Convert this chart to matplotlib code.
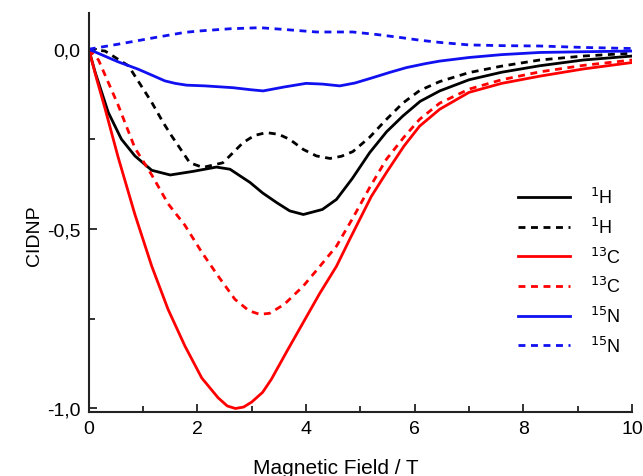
import matplotlib.pyplot as plt
from matplotlib.ticker import MultipleLocator, FuncFormatter

plt.rcParams['font.family'] = ['Liberation Sans', 'DejaVu Sans']

# CIDNP vs magnetic field, read per nucleus (solid / dashed pairs)
h_solid_x = [0, 0.12, 0.36, 0.6, 0.85, 1.16, 1.5, 1.92, 2.35, 2.6, 2.97, 3.2, 3.46, 3.7, 3.95, 4.3, 4.56, 4.85, 5.17, 5.48, 5.78, 6.1, 6.46, 7.0, 7.6, 8.3, 9.1, 10]
h_solid_y = [0, -0.065, -0.176, -0.25, -0.297, -0.337, -0.35, -0.34, -0.328, -0.334, -0.371, -0.4, -0.427, -0.45, -0.46, -0.446, -0.418, -0.36, -0.288, -0.23, -0.186, -0.145, -0.116, -0.085, -0.064, -0.046, -0.03, -0.019]

h_dash_x = [0, 0.3, 0.73, 1.0, 1.16, 1.37, 1.52, 1.86, 2.1, 2.47, 2.84, 3.05, 3.27, 3.5, 3.7, 3.95, 4.19, 4.44, 4.65, 4.86, 5.17, 5.48, 5.78, 6.09, 6.46, 7.0, 7.6, 8.3, 9.1, 10]
h_dash_y = [0, -0.005, -0.046, -0.11, -0.148, -0.204, -0.24, -0.316, -0.329, -0.316, -0.26, -0.24, -0.232, -0.237, -0.251, -0.279, -0.297, -0.304, -0.298, -0.285, -0.245, -0.195, -0.15, -0.115, -0.09, -0.065, -0.047, -0.03, -0.019, -0.011]

c_solid_x = [0, 0.15, 0.3, 0.54, 0.85, 1.16, 1.46, 1.77, 2.08, 2.38, 2.55, 2.7, 2.85, 3.0, 3.2, 3.36, 3.65, 3.95, 4.25, 4.56, 4.8, 4.99, 5.2, 5.48, 5.8, 6.09, 6.46, 7.0, 7.6, 8.3, 9.1, 10]
c_solid_y = [0, -0.085, -0.165, -0.3, -0.46, -0.604, -0.724, -0.826, -0.915, -0.97, -0.993, -1.0, -0.996, -0.982, -0.955, -0.919, -0.84, -0.76, -0.68, -0.604, -0.53, -0.473, -0.41, -0.343, -0.27, -0.214, -0.167, -0.12, -0.095, -0.075, -0.055, -0.037]

c_dash_x = [0, 0.18, 0.54, 0.85, 1.16, 1.46, 1.77, 2.08, 2.38, 2.69, 2.95, 3.15, 3.33, 3.6, 3.95, 4.25, 4.56, 4.86, 5.17, 5.48, 5.8, 6.09, 6.46, 7.0, 7.6, 8.3, 9.1, 10]
c_dash_y = [0, -0.03, -0.155, -0.275, -0.35, -0.43, -0.49, -0.565, -0.631, -0.696, -0.728, -0.738, -0.735, -0.71, -0.659, -0.605, -0.548, -0.47, -0.385, -0.306, -0.245, -0.195, -0.15, -0.111, -0.085, -0.063, -0.045, -0.03]

n_solid_x = [0, 0.54, 0.9, 1.16, 1.4, 1.59, 1.8, 2.14, 2.65, 3.0, 3.21, 3.6, 4.0, 4.3, 4.62, 4.9, 5.23, 5.55, 5.85, 6.2, 6.46, 7.0, 7.6, 8.3, 9.1, 10]
n_solid_y = [0, -0.035, -0.055, -0.072, -0.088, -0.095, -0.1, -0.102, -0.107, -0.113, -0.116, -0.105, -0.095, -0.097, -0.102, -0.094, -0.079, -0.064, -0.051, -0.04, -0.033, -0.023, -0.015, -0.009, -0.007, -0.005]

n_dash_x = [0, 0.54, 1.2, 1.77, 2.05, 2.6, 3.15, 3.6, 4.19, 4.86, 5.3, 5.72, 6.1, 6.46, 7.0, 7.6, 8.3, 9.1, 10]
n_dash_y = [0, 0.014, 0.032, 0.047, 0.051, 0.057, 0.06, 0.055, 0.048, 0.048, 0.041, 0.033, 0.025, 0.019, 0.012, 0.01, 0.009, 0.005, 0.002]

series = [
    (h_solid_x, h_solid_y, 'black', '-', r'$^{1}$H'),
    (h_dash_x, h_dash_y, 'black', '--', r'$^{1}$H'),
    (c_solid_x, c_solid_y, '#ff0000', '-', r'$^{13}$C'),
    (c_dash_x, c_dash_y, '#ff0000', '--', r'$^{13}$C'),
    (n_solid_x, n_solid_y, '#1010f0', '-', r'$^{15}$N'),
    (n_dash_x, n_dash_y, '#1010f0', '--', r'$^{15}$N'),
]

fig = plt.figure(figsize=(6.43, 4.77), dpi=100)
ax = fig.add_axes([0.138, 0.134, 0.845, 0.836])

for xs, ys, col, ls, lab in series:
    line, = ax.plot(xs, ys, color=col, linestyle=ls, linewidth=2.0,
                    solid_joinstyle='round', label=lab)
    if ls == '--':
        line.set_dashes((2.5, 2.0))

ax.set_xlim(0, 10)
ax.set_ylim(-1.01, 0.1)

ax.spines['top'].set_visible(False)
ax.spines['right'].set_visible(False)
for s in ('left', 'bottom'):
    ax.spines[s].set_linewidth(1.5)
    ax.spines[s].set_color('#222222')

ax.xaxis.set_major_locator(MultipleLocator(2))
ax.xaxis.set_minor_locator(MultipleLocator(1))
ax.yaxis.set_major_locator(MultipleLocator(0.5))
ax.yaxis.set_minor_locator(MultipleLocator(0.25))
ax.yaxis.set_major_formatter(FuncFormatter(lambda v, p: f'{v:.1f}'.replace('.', ',').replace('-0,0', '0,0')))

ax.tick_params(which='both', direction='in', width=1.3, color='#222222', labelsize=14)
ax.tick_params(which='major', length=6)
ax.tick_params(which='minor', length=4)
ax.tick_params(axis='x', pad=6)
ax.tick_params(axis='y', pad=6)

ax.set_xlabel('Magnetic Field / T', fontsize=15)
ax.set_ylabel('CIDNP', fontsize=14)
ax.xaxis.set_label_coords(0.454, -0.116)
ax.yaxis.set_label_coords(-0.085, 0.444)

leg = ax.legend(loc='center left', bbox_to_anchor=(0.79, 0.353), frameon=False,
                fontsize=13, handlelength=2.9, handletextpad=1.1,
                labelspacing=0.53, borderaxespad=0, borderpad=0)

fig.savefig('out.png', dpi=100)
